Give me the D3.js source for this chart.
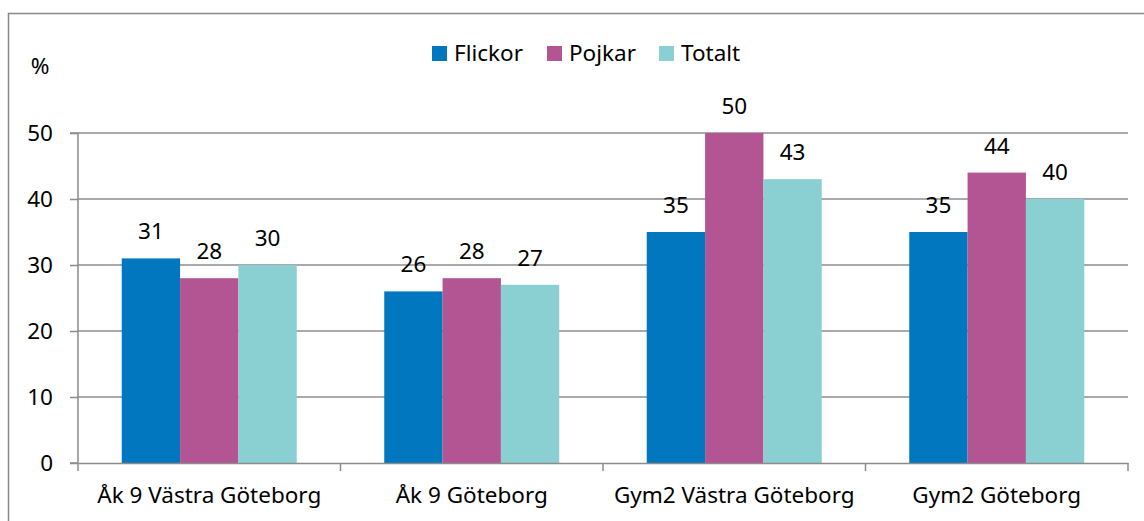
<!DOCTYPE html>
<html>
<head>
<meta charset="utf-8">
<script src="https://cdn.jsdelivr.net/npm/d3@7"></script>
<style>
  body { margin: 0; background: #fff; }
  svg { display: block; font-family: "Noto Sans", "Open Sans", sans-serif; }
</style>
</head>
<body>
<div id="chart"></div>
<script>
const categories = ["Åk 9 Västra Göteborg", "Åk 9 Göteborg", "Gym2 Västra Göteborg", "Gym2 Göteborg"];
const seriesNames = ["Flickor", "Pojkar", "Totalt"];
const flickor = [31, 26, 35, 35];
const pojkar = [28, 28, 50, 44];
const totalt = [30, 27, 43, 40];
const yTicks = [0, 10, 20, 30, 40, 50];

const colors = ["#0077be", "#b35593", "#8acfd2"];
const seriesValues = [flickor, pojkar, totalt];

const WIDTH = 1144, HEIGHT = 521;
const FONT = 22.5;
const margin = { left: 78, right: 16, top: 133, bottom: 58 };
const innerW = WIDTH - margin.left - margin.right;
const innerH = HEIGHT - margin.top - margin.bottom;

const svg = d3.select("#chart").append("svg")
    .attr("width", WIDTH)
    .attr("height", HEIGHT);

// outer frame, cut by the window on the right and bottom
svg.append("rect")
    .attr("x", 8.5).attr("y", 13.5)
    .attr("width", WIDTH + 20).attr("height", HEIGHT + 20)
    .attr("fill", "none")
    .attr("stroke", "#898989")
    .attr("stroke-width", 1.5);

const g = svg.append("g")
    .attr("transform", `translate(${margin.left},${margin.top})`);

const x0 = d3.scaleBand().domain(categories).range([0, innerW]);
const x1 = d3.scaleBand().domain(seriesNames)
    .range([0, x0.bandwidth()]).paddingOuter(0.75);
const y = d3.scaleLinear().domain([0, 50]).range([innerH, 0]);

// gridlines
g.append("g")
    .selectAll("line")
    .data(yTicks.filter(d => d > 0))
    .join("line")
    .attr("x1", 0).attr("x2", innerW)
    .attr("y1", d => y(d)).attr("y2", d => y(d))
    .attr("stroke", "#8c8c8c")
    .attr("stroke-width", 1.5);

// bars
const rows = categories.map((c, i) => ({
    cat: c,
    vals: seriesNames.map((s, j) => ({ s, v: seriesValues[j][i], color: colors[j] }))
}));

const groups = g.selectAll(".grp")
    .data(rows)
    .join("g")
    .attr("transform", d => `translate(${x0(d.cat)},0)`);

groups.selectAll("rect")
    .data(d => d.vals)
    .join("rect")
    .attr("x", d => x1(d.s))
    .attr("width", x1.bandwidth())
    .attr("y", d => y(d.v))
    .attr("height", d => innerH - y(d.v))
    .attr("fill", d => d.color);

groups.selectAll("text")
    .data(d => d.vals)
    .join("text")
    .attr("x", d => x1(d.s) + x1.bandwidth() / 2)
    .attr("y", d => y(d.v) - 19)
    .attr("text-anchor", "middle")
    .style("font-size", FONT + "px")
    .attr("fill", "#000")
    .text(d => d.v);

// y axis
const yAxis = g.append("g")
    .call(d3.axisLeft(y).tickValues(yTicks).tickSize(8).tickPadding(17));
yAxis.attr("font-family", null).attr("font-size", null);
yAxis.select(".domain").attr("stroke", "#8c8c8c").attr("stroke-width", 1.5)
    .attr("d", `M-8,${innerH}H0V0H-8`);
yAxis.selectAll(".tick line").attr("stroke", "#8c8c8c").attr("stroke-width", 1.5);
yAxis.selectAll(".tick text").style("font-size", FONT + "px").attr("fill", "#000");

// x axis
const xAxis = g.append("g")
    .attr("transform", `translate(0,${innerH})`)
    .call(d3.axisBottom(x0).tickSize(0).tickPadding(24));
xAxis.attr("font-family", null).attr("font-size", null);
xAxis.select(".domain").attr("stroke", "#8c8c8c").attr("stroke-width", 1.5);
xAxis.selectAll(".tick text").style("font-size", FONT + "px").attr("fill", "#000");

// boundary ticks between categories
xAxis.append("g")
    .selectAll("line")
    .data(d3.range(categories.length + 1))
    .join("line")
    .attr("x1", i => i * x0.bandwidth())
    .attr("x2", i => i * x0.bandwidth())
    .attr("y1", 0).attr("y2", 8)
    .attr("stroke", "#8c8c8c")
    .attr("stroke-width", 1.5);

// unit label
svg.append("text")
    .attr("x", 40).attr("y", 74)
    .attr("text-anchor", "middle")
    .style("font-size", FONT + "px")
    .text("%");

// legend
const legendX = [432, 547, 659];
const legend = svg.append("g");
seriesNames.forEach((s, i) => {
    legend.append("rect")
        .attr("x", legendX[i]).attr("y", 46)
        .attr("width", 15).attr("height", 15)
        .attr("fill", colors[i]);
    legend.append("text")
        .attr("x", legendX[i] + 22).attr("y", 61)
        .style("font-size", FONT + "px")
        .text(s);
});
</script>
</body>
</html>
